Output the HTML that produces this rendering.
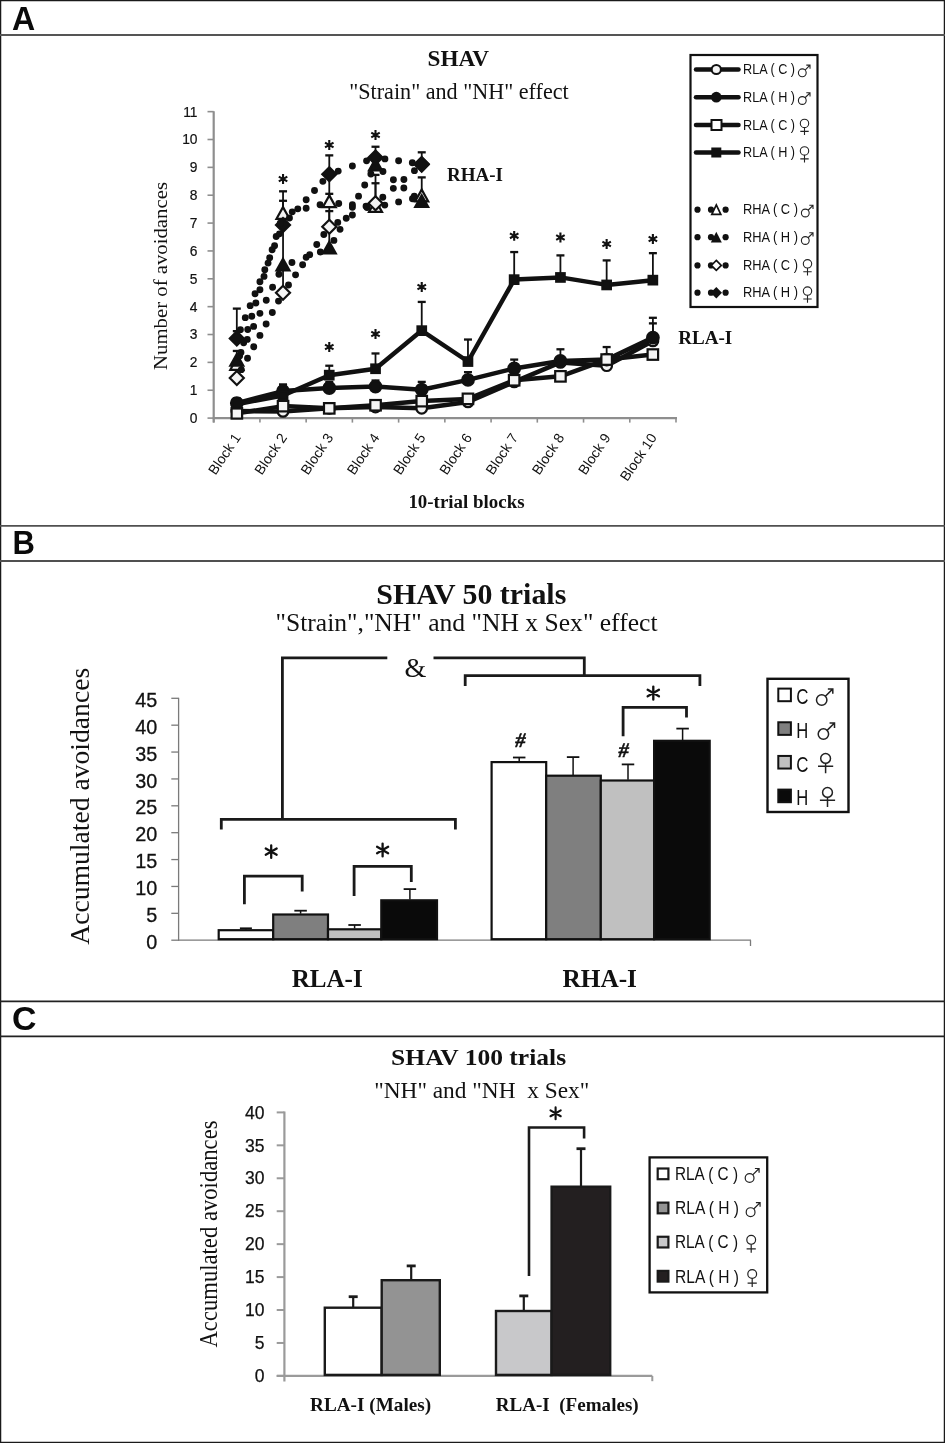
<!DOCTYPE html>
<html><head><meta charset="utf-8"><title>SHAV figure</title>
<style>html,body{margin:0;padding:0;background:#fff;overflow:hidden}svg{display:block;will-change:transform}</style>
</head><body>
<svg width="945" height="1443" viewBox="0 0 945 1443">
<rect x="0" y="0" width="945" height="1443" fill="#fff"/>
<rect x="0.5" y="0.5" width="944" height="1442" fill="none" stroke="#1a1a1a" stroke-width="1.5" />
<line x1="0" y1="35.0" x2="945" y2="35.0" stroke="#555" stroke-width="2.0" />
<line x1="0" y1="525.9" x2="945" y2="525.9" stroke="#505050" stroke-width="1.9" />
<line x1="0" y1="561.0" x2="945" y2="561.0" stroke="#505050" stroke-width="1.9" />
<line x1="0" y1="1001.4" x2="945" y2="1001.4" stroke="#222" stroke-width="1.7" />
<line x1="0" y1="1036.3" x2="945" y2="1036.3" stroke="#222" stroke-width="1.7" />
<text x="12" y="30.4" font-family='"Liberation Sans", sans-serif' font-size="34" font-weight="bold" text-anchor="start" fill="#0a0a0a" textLength="23.2" lengthAdjust="spacingAndGlyphs" >A</text>
<text x="12.6" y="554.1" font-family='"Liberation Sans", sans-serif' font-size="34" font-weight="bold" text-anchor="start" fill="#0a0a0a" textLength="22.4" lengthAdjust="spacingAndGlyphs" >B</text>
<text x="12.0" y="1030.2" font-family='"Liberation Sans", sans-serif' font-size="34" font-weight="bold" text-anchor="start" fill="#0a0a0a" textLength="24.5" lengthAdjust="spacingAndGlyphs" >C</text>
<text x="458.3" y="65.9" font-family='"Liberation Serif", serif' font-size="22.5" font-weight="bold" text-anchor="middle" fill="#111" textLength="61.5" lengthAdjust="spacingAndGlyphs" >SHAV</text>
<text x="459" y="98.8" font-family='"Liberation Serif", serif' font-size="23.8" font-weight="normal" text-anchor="middle" fill="#111" textLength="219.5" lengthAdjust="spacingAndGlyphs" >"Strain" and "NH" effect</text>
<line x1="213.7" y1="111.14000000000004" x2="213.7" y2="422.6" stroke="#8e8e8e" stroke-width="2.2" />
<line x1="207.5" y1="418.1" x2="213.7" y2="418.1" stroke="#8e8e8e" stroke-width="1.6" />
<text x="197.5" y="423.0" font-family='"Liberation Sans", sans-serif' font-size="13.8" font-weight="normal" text-anchor="end" fill="#111" stroke="#111" stroke-width="0.2">0</text>
<line x1="207.5" y1="390.24" x2="213.7" y2="390.24" stroke="#8e8e8e" stroke-width="1.6" />
<text x="197.5" y="395.14" font-family='"Liberation Sans", sans-serif' font-size="13.8" font-weight="normal" text-anchor="end" fill="#111" stroke="#111" stroke-width="0.2">1</text>
<line x1="207.5" y1="362.38" x2="213.7" y2="362.38" stroke="#8e8e8e" stroke-width="1.6" />
<text x="197.5" y="367.28" font-family='"Liberation Sans", sans-serif' font-size="13.8" font-weight="normal" text-anchor="end" fill="#111" stroke="#111" stroke-width="0.2">2</text>
<line x1="207.5" y1="334.52000000000004" x2="213.7" y2="334.52000000000004" stroke="#8e8e8e" stroke-width="1.6" />
<text x="197.5" y="339.42" font-family='"Liberation Sans", sans-serif' font-size="13.8" font-weight="normal" text-anchor="end" fill="#111" stroke="#111" stroke-width="0.2">3</text>
<line x1="207.5" y1="306.66" x2="213.7" y2="306.66" stroke="#8e8e8e" stroke-width="1.6" />
<text x="197.5" y="311.56" font-family='"Liberation Sans", sans-serif' font-size="13.8" font-weight="normal" text-anchor="end" fill="#111" stroke="#111" stroke-width="0.2">4</text>
<line x1="207.5" y1="278.8" x2="213.7" y2="278.8" stroke="#8e8e8e" stroke-width="1.6" />
<text x="197.5" y="283.7" font-family='"Liberation Sans", sans-serif' font-size="13.8" font-weight="normal" text-anchor="end" fill="#111" stroke="#111" stroke-width="0.2">5</text>
<line x1="207.5" y1="250.94000000000003" x2="213.7" y2="250.94000000000003" stroke="#8e8e8e" stroke-width="1.6" />
<text x="197.5" y="255.84000000000003" font-family='"Liberation Sans", sans-serif' font-size="13.8" font-weight="normal" text-anchor="end" fill="#111" stroke="#111" stroke-width="0.2">6</text>
<line x1="207.5" y1="223.08000000000004" x2="213.7" y2="223.08000000000004" stroke="#8e8e8e" stroke-width="1.6" />
<text x="197.5" y="227.98000000000005" font-family='"Liberation Sans", sans-serif' font-size="13.8" font-weight="normal" text-anchor="end" fill="#111" stroke="#111" stroke-width="0.2">7</text>
<line x1="207.5" y1="195.22000000000003" x2="213.7" y2="195.22000000000003" stroke="#8e8e8e" stroke-width="1.6" />
<text x="197.5" y="200.12000000000003" font-family='"Liberation Sans", sans-serif' font-size="13.8" font-weight="normal" text-anchor="end" fill="#111" stroke="#111" stroke-width="0.2">8</text>
<line x1="207.5" y1="167.36" x2="213.7" y2="167.36" stroke="#8e8e8e" stroke-width="1.6" />
<text x="197.5" y="172.26000000000002" font-family='"Liberation Sans", sans-serif' font-size="13.8" font-weight="normal" text-anchor="end" fill="#111" stroke="#111" stroke-width="0.2">9</text>
<line x1="207.5" y1="139.5" x2="213.7" y2="139.5" stroke="#8e8e8e" stroke-width="1.6" />
<text x="197.5" y="144.4" font-family='"Liberation Sans", sans-serif' font-size="13.8" font-weight="normal" text-anchor="end" fill="#111" stroke="#111" stroke-width="0.2">10</text>
<line x1="207.5" y1="111.64000000000004" x2="213.7" y2="111.64000000000004" stroke="#8e8e8e" stroke-width="1.6" />
<text x="197.5" y="116.54000000000005" font-family='"Liberation Sans", sans-serif' font-size="13.8" font-weight="normal" text-anchor="end" fill="#111" stroke="#111" stroke-width="0.2">11</text>
<line x1="212.7" y1="418.1" x2="677.0" y2="418.1" stroke="#8e8e8e" stroke-width="2.2" />
<line x1="213.7" y1="418.1" x2="213.7" y2="422.6" stroke="#8e8e8e" stroke-width="1.6" />
<line x1="259.93" y1="418.1" x2="259.93" y2="422.6" stroke="#8e8e8e" stroke-width="1.6" />
<line x1="306.15999999999997" y1="418.1" x2="306.15999999999997" y2="422.6" stroke="#8e8e8e" stroke-width="1.6" />
<line x1="352.39" y1="418.1" x2="352.39" y2="422.6" stroke="#8e8e8e" stroke-width="1.6" />
<line x1="398.62" y1="418.1" x2="398.62" y2="422.6" stroke="#8e8e8e" stroke-width="1.6" />
<line x1="444.85" y1="418.1" x2="444.85" y2="422.6" stroke="#8e8e8e" stroke-width="1.6" />
<line x1="491.08" y1="418.1" x2="491.08" y2="422.6" stroke="#8e8e8e" stroke-width="1.6" />
<line x1="537.31" y1="418.1" x2="537.31" y2="422.6" stroke="#8e8e8e" stroke-width="1.6" />
<line x1="583.54" y1="418.1" x2="583.54" y2="422.6" stroke="#8e8e8e" stroke-width="1.6" />
<line x1="629.77" y1="418.1" x2="629.77" y2="422.6" stroke="#8e8e8e" stroke-width="1.6" />
<line x1="676.0" y1="418.1" x2="676.0" y2="422.6" stroke="#8e8e8e" stroke-width="1.6" />
<text transform="translate(241.3,437.6) rotate(-56)" font-family='"Liberation Sans", sans-serif' font-size="14" text-anchor="end" fill="#111">Block 1</text>
<text transform="translate(287.5,437.6) rotate(-56)" font-family='"Liberation Sans", sans-serif' font-size="14" text-anchor="end" fill="#111">Block 2</text>
<text transform="translate(333.8,437.6) rotate(-56)" font-family='"Liberation Sans", sans-serif' font-size="14" text-anchor="end" fill="#111">Block 3</text>
<text transform="translate(380.0,437.6) rotate(-56)" font-family='"Liberation Sans", sans-serif' font-size="14" text-anchor="end" fill="#111">Block 4</text>
<text transform="translate(426.2,437.6) rotate(-56)" font-family='"Liberation Sans", sans-serif' font-size="14" text-anchor="end" fill="#111">Block 5</text>
<text transform="translate(472.5,437.6) rotate(-56)" font-family='"Liberation Sans", sans-serif' font-size="14" text-anchor="end" fill="#111">Block 6</text>
<text transform="translate(518.7,437.6) rotate(-56)" font-family='"Liberation Sans", sans-serif' font-size="14" text-anchor="end" fill="#111">Block 7</text>
<text transform="translate(564.9,437.6) rotate(-56)" font-family='"Liberation Sans", sans-serif' font-size="14" text-anchor="end" fill="#111">Block 8</text>
<text transform="translate(611.2,437.6) rotate(-56)" font-family='"Liberation Sans", sans-serif' font-size="14" text-anchor="end" fill="#111">Block 9</text>
<text transform="translate(657.4,437.6) rotate(-56)" font-family='"Liberation Sans", sans-serif' font-size="14" text-anchor="end" fill="#111">Block 10</text>
<text transform="translate(167,276) rotate(-90)" font-family='"Liberation Serif", serif' font-size="19.5" text-anchor="middle" fill="#111" textLength="188" lengthAdjust="spacingAndGlyphs">Number of avoidances</text>
<text x="466.5" y="507.6" font-family='"Liberation Serif", serif' font-size="18.9" font-weight="bold" text-anchor="middle" fill="#111" textLength="116.2" lengthAdjust="spacingAndGlyphs" >10-trial blocks</text>
<text x="475" y="181.2" font-family='"Liberation Serif", serif' font-size="19" font-weight="bold" text-anchor="middle" fill="#111" textLength="56" lengthAdjust="spacingAndGlyphs" >RHA-I</text>
<text x="705.3" y="344" font-family='"Liberation Serif", serif' font-size="19" font-weight="bold" text-anchor="middle" fill="#111" textLength="54" lengthAdjust="spacingAndGlyphs" >RLA-I</text>
<line x1="236.815" y1="338.42040000000003" x2="236.815" y2="308.6102" stroke="#111" stroke-width="1.8" />
<line x1="232.815" y1="308.6102" x2="240.815" y2="308.6102" stroke="#111" stroke-width="2.3" />
<line x1="236.815" y1="338.42040000000003" x2="236.815" y2="331.1768" stroke="#111" stroke-width="1.8" />
<line x1="232.815" y1="331.1768" x2="240.815" y2="331.1768" stroke="#111" stroke-width="2.3" />
<line x1="236.815" y1="360.987" x2="236.815" y2="350.9574" stroke="#111" stroke-width="1.8" />
<line x1="232.815" y1="350.9574" x2="240.815" y2="350.9574" stroke="#111" stroke-width="2.3" />
<line x1="283.04499999999996" y1="292.73" x2="283.04499999999996" y2="191.3196" stroke="#111" stroke-width="1.8" />
<line x1="279.04499999999996" y1="191.3196" x2="287.04499999999996" y2="191.3196" stroke="#111" stroke-width="2.3" />
<line x1="283.04499999999996" y1="225.866" x2="283.04499999999996" y2="200.79200000000003" stroke="#111" stroke-width="1.8" />
<line x1="279.04499999999996" y1="200.79200000000003" x2="287.04499999999996" y2="200.79200000000003" stroke="#111" stroke-width="2.3" />
<line x1="329.275" y1="248.71120000000002" x2="329.275" y2="155.38020000000006" stroke="#111" stroke-width="1.8" />
<line x1="325.275" y1="155.38020000000006" x2="333.275" y2="155.38020000000006" stroke="#111" stroke-width="2.3" />
<line x1="329.275" y1="202.4636" x2="329.275" y2="193.827" stroke="#111" stroke-width="1.8" />
<line x1="325.275" y1="193.827" x2="333.275" y2="193.827" stroke="#111" stroke-width="2.3" />
<line x1="329.275" y1="226.70180000000002" x2="329.275" y2="211.10020000000003" stroke="#111" stroke-width="1.8" />
<line x1="325.275" y1="211.10020000000003" x2="333.275" y2="211.10020000000003" stroke="#111" stroke-width="2.3" />
<line x1="375.505" y1="157.60900000000004" x2="375.505" y2="146.74360000000001" stroke="#111" stroke-width="1.8" />
<line x1="371.505" y1="146.74360000000001" x2="379.505" y2="146.74360000000001" stroke="#111" stroke-width="2.3" />
<line x1="375.505" y1="203.29940000000002" x2="375.505" y2="174.8822" stroke="#111" stroke-width="1.8" />
<line x1="371.505" y1="174.8822" x2="379.505" y2="174.8822" stroke="#111" stroke-width="2.3" />
<line x1="375.505" y1="203.29940000000002" x2="375.505" y2="183.24020000000004" stroke="#111" stroke-width="1.8" />
<line x1="371.505" y1="183.24020000000004" x2="379.505" y2="183.24020000000004" stroke="#111" stroke-width="2.3" />
<line x1="421.735" y1="164.01680000000005" x2="421.735" y2="152.31560000000007" stroke="#111" stroke-width="1.8" />
<line x1="417.735" y1="152.31560000000007" x2="425.735" y2="152.31560000000007" stroke="#111" stroke-width="2.3" />
<line x1="421.735" y1="202.18500000000003" x2="421.735" y2="177.3896" stroke="#111" stroke-width="1.8" />
<line x1="417.735" y1="177.3896" x2="425.735" y2="177.3896" stroke="#111" stroke-width="2.3" />
<path d="M236.8,358.1 L243.3,369.8 L230.3,369.8 Z" fill="#f4f4f4" stroke="#111" stroke-width="2.2" stroke-linejoin="miter"/>
<path d="M283.0,207.1 L289.5,218.8 L276.5,218.8 Z" fill="#f4f4f4" stroke="#111" stroke-width="2.2" stroke-linejoin="miter"/>
<path d="M329.3,195.4 L335.8,207.1 L322.8,207.1 Z" fill="#f4f4f4" stroke="#111" stroke-width="2.2" stroke-linejoin="miter"/>
<path d="M375.5,200.2 L382.0,211.9 L369.0,211.9 Z" fill="#f4f4f4" stroke="#111" stroke-width="2.2" stroke-linejoin="miter"/>
<path d="M421.7,189.6 L428.2,201.3 L415.2,201.3 Z" fill="#f4f4f4" stroke="#111" stroke-width="2.2" stroke-linejoin="miter"/>
<path d="M236.8,354.0 L243.3,365.7 L230.3,365.7 Z" fill="#111" stroke="#111" stroke-width="2.2" stroke-linejoin="miter"/>
<path d="M283.0,258.7 L289.5,270.4 L276.5,270.4 Z" fill="#111" stroke="#111" stroke-width="2.2" stroke-linejoin="miter"/>
<path d="M329.3,241.7 L335.8,253.4 L322.8,253.4 Z" fill="#111" stroke="#111" stroke-width="2.2" stroke-linejoin="miter"/>
<path d="M375.5,158.7 L382.0,170.4 L369.0,170.4 Z" fill="#111" stroke="#111" stroke-width="2.2" stroke-linejoin="miter"/>
<path d="M421.7,195.2 L428.2,206.9 L415.2,206.9 Z" fill="#111" stroke="#111" stroke-width="2.2" stroke-linejoin="miter"/>
<path d="M236.8,371.0 L243.8,378.0 L236.8,385.0 L229.8,378.0 Z" fill="#f4f4f4" stroke="#111" stroke-width="2.2"/>
<path d="M283.0,285.7 L290.0,292.7 L283.0,299.7 L276.0,292.7 Z" fill="#f4f4f4" stroke="#111" stroke-width="2.2"/>
<path d="M329.3,219.7 L336.3,226.7 L329.3,233.7 L322.3,226.7 Z" fill="#f4f4f4" stroke="#111" stroke-width="2.2"/>
<path d="M375.5,196.3 L382.5,203.3 L375.5,210.3 L368.5,203.3 Z" fill="#f4f4f4" stroke="#111" stroke-width="2.2"/>
<path d="M421.7,157.6 L428.7,164.6 L421.7,171.6 L414.7,164.6 Z" fill="#f4f4f4" stroke="#111" stroke-width="2.2"/>
<path d="M236.8,331.4 L243.8,338.4 L236.8,345.4 L229.8,338.4 Z" fill="#111" stroke="#111" stroke-width="2.2"/>
<path d="M283.0,218.0 L290.0,225.0 L283.0,232.0 L276.0,225.0 Z" fill="#111" stroke="#111" stroke-width="2.2"/>
<path d="M329.3,167.3 L336.3,174.3 L329.3,181.3 L322.3,174.3 Z" fill="#111" stroke="#111" stroke-width="2.2"/>
<path d="M375.5,150.6 L382.5,157.6 L375.5,164.6 L368.5,157.6 Z" fill="#111" stroke="#111" stroke-width="2.2"/>
<path d="M421.7,157.0 L428.7,164.0 L421.7,171.0 L414.7,164.0 Z" fill="#111" stroke="#111" stroke-width="2.2"/>
<path d="M236.15,356.08a3.45,3.45 0 1,0 6.9,0a3.45,3.45 0 1,0 -6.9,0M240.21,342.80a3.45,3.45 0 1,0 6.9,0a3.45,3.45 0 1,0 -6.9,0M244.28,329.52a3.45,3.45 0 1,0 6.9,0a3.45,3.45 0 1,0 -6.9,0M248.35,316.23a3.45,3.45 0 1,0 6.9,0a3.45,3.45 0 1,0 -6.9,0M252.41,302.95a3.45,3.45 0 1,0 6.9,0a3.45,3.45 0 1,0 -6.9,0M256.48,289.67a3.45,3.45 0 1,0 6.9,0a3.45,3.45 0 1,0 -6.9,0M260.55,276.38a3.45,3.45 0 1,0 6.9,0a3.45,3.45 0 1,0 -6.9,0M264.61,263.10a3.45,3.45 0 1,0 6.9,0a3.45,3.45 0 1,0 -6.9,0M268.68,249.82a3.45,3.45 0 1,0 6.9,0a3.45,3.45 0 1,0 -6.9,0M272.75,236.53a3.45,3.45 0 1,0 6.9,0a3.45,3.45 0 1,0 -6.9,0M276.81,223.25a3.45,3.45 0 1,0 6.9,0a3.45,3.45 0 1,0 -6.9,0M288.80,211.83a3.45,3.45 0 1,0 6.9,0a3.45,3.45 0 1,0 -6.9,0M302.71,208.31a3.45,3.45 0 1,0 6.9,0a3.45,3.45 0 1,0 -6.9,0M316.62,204.79a3.45,3.45 0 1,0 6.9,0a3.45,3.45 0 1,0 -6.9,0M335.28,203.43a3.45,3.45 0 1,0 6.9,0a3.45,3.45 0 1,0 -6.9,0M348.94,204.83a3.45,3.45 0 1,0 6.9,0a3.45,3.45 0 1,0 -6.9,0M362.60,206.23a3.45,3.45 0 1,0 6.9,0a3.45,3.45 0 1,0 -6.9,0M381.32,205.08a3.45,3.45 0 1,0 6.9,0a3.45,3.45 0 1,0 -6.9,0M395.17,201.91a3.45,3.45 0 1,0 6.9,0a3.45,3.45 0 1,0 -6.9,0M409.02,198.73a3.45,3.45 0 1,0 6.9,0a3.45,3.45 0 1,0 -6.9,0" fill="#111"/>
<path d="M237.51,352.44a3.45,3.45 0 1,0 6.9,0a3.45,3.45 0 1,0 -6.9,0M243.83,339.41a3.45,3.45 0 1,0 6.9,0a3.45,3.45 0 1,0 -6.9,0M250.16,326.38a3.45,3.45 0 1,0 6.9,0a3.45,3.45 0 1,0 -6.9,0M256.48,313.35a3.45,3.45 0 1,0 6.9,0a3.45,3.45 0 1,0 -6.9,0M262.80,300.32a3.45,3.45 0 1,0 6.9,0a3.45,3.45 0 1,0 -6.9,0M269.13,287.28a3.45,3.45 0 1,0 6.9,0a3.45,3.45 0 1,0 -6.9,0M275.45,274.25a3.45,3.45 0 1,0 6.9,0a3.45,3.45 0 1,0 -6.9,0M288.51,262.43a3.45,3.45 0 1,0 6.9,0a3.45,3.45 0 1,0 -6.9,0M302.71,257.21a3.45,3.45 0 1,0 6.9,0a3.45,3.45 0 1,0 -6.9,0M316.91,251.99a3.45,3.45 0 1,0 6.9,0a3.45,3.45 0 1,0 -6.9,0M330.45,240.41a3.45,3.45 0 1,0 6.9,0a3.45,3.45 0 1,0 -6.9,0M336.61,229.34a3.45,3.45 0 1,0 6.9,0a3.45,3.45 0 1,0 -6.9,0M342.78,218.27a3.45,3.45 0 1,0 6.9,0a3.45,3.45 0 1,0 -6.9,0M348.94,207.20a3.45,3.45 0 1,0 6.9,0a3.45,3.45 0 1,0 -6.9,0M355.10,196.13a3.45,3.45 0 1,0 6.9,0a3.45,3.45 0 1,0 -6.9,0M361.27,185.06a3.45,3.45 0 1,0 6.9,0a3.45,3.45 0 1,0 -6.9,0M367.43,173.99a3.45,3.45 0 1,0 6.9,0a3.45,3.45 0 1,0 -6.9,0M379.51,171.57a3.45,3.45 0 1,0 6.9,0a3.45,3.45 0 1,0 -6.9,0M389.95,179.82a3.45,3.45 0 1,0 6.9,0a3.45,3.45 0 1,0 -6.9,0M400.39,188.06a3.45,3.45 0 1,0 6.9,0a3.45,3.45 0 1,0 -6.9,0M410.83,196.30a3.45,3.45 0 1,0 6.9,0a3.45,3.45 0 1,0 -6.9,0" fill="#111"/>
<path d="M237.89,369.63a3.45,3.45 0 1,0 6.9,0a3.45,3.45 0 1,0 -6.9,0M244.09,358.21a3.45,3.45 0 1,0 6.9,0a3.45,3.45 0 1,0 -6.9,0M250.28,346.78a3.45,3.45 0 1,0 6.9,0a3.45,3.45 0 1,0 -6.9,0M256.48,335.36a3.45,3.45 0 1,0 6.9,0a3.45,3.45 0 1,0 -6.9,0M262.68,323.93a3.45,3.45 0 1,0 6.9,0a3.45,3.45 0 1,0 -6.9,0M268.87,312.51a3.45,3.45 0 1,0 6.9,0a3.45,3.45 0 1,0 -6.9,0M275.07,301.08a3.45,3.45 0 1,0 6.9,0a3.45,3.45 0 1,0 -6.9,0M285.04,284.95a3.45,3.45 0 1,0 6.9,0a3.45,3.45 0 1,0 -6.9,0M292.11,274.86a3.45,3.45 0 1,0 6.9,0a3.45,3.45 0 1,0 -6.9,0M299.18,264.76a3.45,3.45 0 1,0 6.9,0a3.45,3.45 0 1,0 -6.9,0M306.24,254.67a3.45,3.45 0 1,0 6.9,0a3.45,3.45 0 1,0 -6.9,0M313.31,244.58a3.45,3.45 0 1,0 6.9,0a3.45,3.45 0 1,0 -6.9,0M320.38,234.48a3.45,3.45 0 1,0 6.9,0a3.45,3.45 0 1,0 -6.9,0M334.30,222.41a3.45,3.45 0 1,0 6.9,0a3.45,3.45 0 1,0 -6.9,0M348.94,215.00a3.45,3.45 0 1,0 6.9,0a3.45,3.45 0 1,0 -6.9,0M363.58,207.59a3.45,3.45 0 1,0 6.9,0a3.45,3.45 0 1,0 -6.9,0M379.34,197.20a3.45,3.45 0 1,0 6.9,0a3.45,3.45 0 1,0 -6.9,0M389.89,188.36a3.45,3.45 0 1,0 6.9,0a3.45,3.45 0 1,0 -6.9,0M400.45,179.52a3.45,3.45 0 1,0 6.9,0a3.45,3.45 0 1,0 -6.9,0M411.00,170.67a3.45,3.45 0 1,0 6.9,0a3.45,3.45 0 1,0 -6.9,0" fill="#111"/>
<path d="M236.95,329.62a3.45,3.45 0 1,0 6.9,0a3.45,3.45 0 1,0 -6.9,0M241.83,317.65a3.45,3.45 0 1,0 6.9,0a3.45,3.45 0 1,0 -6.9,0M246.72,305.67a3.45,3.45 0 1,0 6.9,0a3.45,3.45 0 1,0 -6.9,0M251.60,293.70a3.45,3.45 0 1,0 6.9,0a3.45,3.45 0 1,0 -6.9,0M256.48,281.73a3.45,3.45 0 1,0 6.9,0a3.45,3.45 0 1,0 -6.9,0M261.36,269.75a3.45,3.45 0 1,0 6.9,0a3.45,3.45 0 1,0 -6.9,0M266.24,257.78a3.45,3.45 0 1,0 6.9,0a3.45,3.45 0 1,0 -6.9,0M271.13,245.80a3.45,3.45 0 1,0 6.9,0a3.45,3.45 0 1,0 -6.9,0M276.01,233.83a3.45,3.45 0 1,0 6.9,0a3.45,3.45 0 1,0 -6.9,0M286.00,218.01a3.45,3.45 0 1,0 6.9,0a3.45,3.45 0 1,0 -6.9,0M294.35,208.84a3.45,3.45 0 1,0 6.9,0a3.45,3.45 0 1,0 -6.9,0M302.71,199.68a3.45,3.45 0 1,0 6.9,0a3.45,3.45 0 1,0 -6.9,0M311.07,190.51a3.45,3.45 0 1,0 6.9,0a3.45,3.45 0 1,0 -6.9,0M319.42,181.35a3.45,3.45 0 1,0 6.9,0a3.45,3.45 0 1,0 -6.9,0M334.76,171.09a3.45,3.45 0 1,0 6.9,0a3.45,3.45 0 1,0 -6.9,0M348.94,165.97a3.45,3.45 0 1,0 6.9,0a3.45,3.45 0 1,0 -6.9,0M363.12,160.84a3.45,3.45 0 1,0 6.9,0a3.45,3.45 0 1,0 -6.9,0M381.47,158.91a3.45,3.45 0 1,0 6.9,0a3.45,3.45 0 1,0 -6.9,0M395.17,160.81a3.45,3.45 0 1,0 6.9,0a3.45,3.45 0 1,0 -6.9,0M408.87,162.71a3.45,3.45 0 1,0 6.9,0a3.45,3.45 0 1,0 -6.9,0" fill="#111"/>
<path d="M283.04,183.90 L283.04,174.10 M278.80,181.45 L287.29,176.55 M287.29,181.45 L278.80,176.55 " stroke="#111" stroke-width="2.1" fill="none"/>
<path d="M329.27,149.90 L329.27,140.10 M325.03,147.45 L333.52,142.55 M333.52,147.45 L325.03,142.55 " stroke="#111" stroke-width="2.1" fill="none"/>
<path d="M375.50,139.90 L375.50,130.10 M371.26,137.45 L379.75,132.55 M379.75,137.45 L371.26,132.55 " stroke="#111" stroke-width="2.1" fill="none"/>
<line x1="236.815" y1="404.17" x2="236.815" y2="398.598" stroke="#111" stroke-width="1.8" />
<line x1="232.815" y1="398.598" x2="240.815" y2="398.598" stroke="#111" stroke-width="2.3" />
<line x1="283.04499999999996" y1="395.53340000000003" x2="283.04499999999996" y2="384.668" stroke="#111" stroke-width="1.8" />
<line x1="279.04499999999996" y1="384.668" x2="287.04499999999996" y2="384.668" stroke="#111" stroke-width="2.3" />
<line x1="329.275" y1="375.1956" x2="329.275" y2="365.7232" stroke="#111" stroke-width="1.8" />
<line x1="325.275" y1="365.7232" x2="333.275" y2="365.7232" stroke="#111" stroke-width="2.3" />
<line x1="375.505" y1="368.7878" x2="375.505" y2="353.4648" stroke="#111" stroke-width="1.8" />
<line x1="371.505" y1="353.4648" x2="379.505" y2="353.4648" stroke="#111" stroke-width="2.3" />
<line x1="421.735" y1="330.6196" x2="421.735" y2="301.9238" stroke="#111" stroke-width="1.8" />
<line x1="417.735" y1="301.9238" x2="425.735" y2="301.9238" stroke="#111" stroke-width="2.3" />
<line x1="467.96500000000003" y1="361.54420000000005" x2="467.96500000000003" y2="339.5348" stroke="#111" stroke-width="1.8" />
<line x1="463.96500000000003" y1="339.5348" x2="471.96500000000003" y2="339.5348" stroke="#111" stroke-width="2.3" />
<line x1="514.1949999999999" y1="279.6358" x2="514.1949999999999" y2="252.05440000000002" stroke="#111" stroke-width="1.8" />
<line x1="510.19499999999994" y1="252.05440000000002" x2="518.1949999999999" y2="252.05440000000002" stroke="#111" stroke-width="2.3" />
<line x1="560.425" y1="277.40700000000004" x2="560.425" y2="255.39760000000004" stroke="#111" stroke-width="1.8" />
<line x1="556.425" y1="255.39760000000004" x2="564.425" y2="255.39760000000004" stroke="#111" stroke-width="2.3" />
<line x1="606.655" y1="284.92920000000004" x2="606.655" y2="260.41240000000005" stroke="#111" stroke-width="1.8" />
<line x1="602.655" y1="260.41240000000005" x2="610.655" y2="260.41240000000005" stroke="#111" stroke-width="2.3" />
<line x1="652.885" y1="280.193" x2="652.885" y2="253.16880000000003" stroke="#111" stroke-width="1.8" />
<line x1="648.885" y1="253.16880000000003" x2="656.885" y2="253.16880000000003" stroke="#111" stroke-width="2.3" />
<line x1="236.815" y1="403.0556" x2="236.815" y2="398.598" stroke="#111" stroke-width="1.8" />
<line x1="232.815" y1="398.598" x2="240.815" y2="398.598" stroke="#111" stroke-width="2.3" />
<line x1="283.04499999999996" y1="391.0758" x2="283.04499999999996" y2="384.668" stroke="#111" stroke-width="1.8" />
<line x1="279.04499999999996" y1="384.668" x2="287.04499999999996" y2="384.668" stroke="#111" stroke-width="2.3" />
<line x1="329.275" y1="388.01120000000003" x2="329.275" y2="381.882" stroke="#111" stroke-width="1.8" />
<line x1="325.275" y1="381.882" x2="333.275" y2="381.882" stroke="#111" stroke-width="2.3" />
<line x1="375.505" y1="386.6182" x2="375.505" y2="380.48900000000003" stroke="#111" stroke-width="1.8" />
<line x1="371.505" y1="380.48900000000003" x2="379.505" y2="380.48900000000003" stroke="#111" stroke-width="2.3" />
<line x1="421.735" y1="389.68280000000004" x2="421.735" y2="381.882" stroke="#111" stroke-width="1.8" />
<line x1="417.735" y1="381.882" x2="425.735" y2="381.882" stroke="#111" stroke-width="2.3" />
<line x1="467.96500000000003" y1="379.9318" x2="467.96500000000003" y2="372.13100000000003" stroke="#111" stroke-width="1.8" />
<line x1="463.96500000000003" y1="372.13100000000003" x2="471.96500000000003" y2="372.13100000000003" stroke="#111" stroke-width="2.3" />
<line x1="514.1949999999999" y1="368.5092" x2="514.1949999999999" y2="359.59400000000005" stroke="#111" stroke-width="1.8" />
<line x1="510.19499999999994" y1="359.59400000000005" x2="518.1949999999999" y2="359.59400000000005" stroke="#111" stroke-width="2.3" />
<line x1="560.425" y1="360.987" x2="560.425" y2="349.2858" stroke="#111" stroke-width="1.8" />
<line x1="556.425" y1="349.2858" x2="564.425" y2="349.2858" stroke="#111" stroke-width="2.3" />
<line x1="606.655" y1="359.59400000000005" x2="606.655" y2="347.057" stroke="#111" stroke-width="1.8" />
<line x1="602.655" y1="347.057" x2="610.655" y2="347.057" stroke="#111" stroke-width="2.3" />
<line x1="652.885" y1="337.5846" x2="652.885" y2="317.80400000000003" stroke="#111" stroke-width="1.8" />
<line x1="648.885" y1="317.80400000000003" x2="656.885" y2="317.80400000000003" stroke="#111" stroke-width="2.3" />
<line x1="652.885" y1="340.09200000000004" x2="652.885" y2="323.37600000000003" stroke="#111" stroke-width="1.8" />
<line x1="648.885" y1="323.37600000000003" x2="656.885" y2="323.37600000000003" stroke="#111" stroke-width="2.3" />
<polyline points="236.8,411.1 283.0,411.4 329.3,408.3 375.5,407.0 421.7,408.3 468.0,401.9 514.2,381.9 560.4,362.4 606.7,365.7 652.9,340.9" fill="none" stroke="#111" stroke-width="4.5" stroke-linejoin="round"/>
<circle cx="236.8" cy="411.1" r="5.3" fill="#f4f4f4" stroke="#111" stroke-width="2.2"/>
<circle cx="283.0" cy="411.4" r="5.3" fill="#f4f4f4" stroke="#111" stroke-width="2.2"/>
<circle cx="329.3" cy="408.3" r="5.3" fill="#f4f4f4" stroke="#111" stroke-width="2.2"/>
<circle cx="375.5" cy="407.0" r="5.3" fill="#f4f4f4" stroke="#111" stroke-width="2.2"/>
<circle cx="421.7" cy="408.3" r="5.3" fill="#f4f4f4" stroke="#111" stroke-width="2.2"/>
<circle cx="468.0" cy="401.9" r="5.3" fill="#f4f4f4" stroke="#111" stroke-width="2.2"/>
<circle cx="514.2" cy="381.9" r="5.3" fill="#f4f4f4" stroke="#111" stroke-width="2.2"/>
<circle cx="560.4" cy="362.4" r="5.3" fill="#f4f4f4" stroke="#111" stroke-width="2.2"/>
<circle cx="606.7" cy="365.7" r="5.3" fill="#f4f4f4" stroke="#111" stroke-width="2.2"/>
<circle cx="652.9" cy="340.9" r="5.3" fill="#f4f4f4" stroke="#111" stroke-width="2.2"/>
<polyline points="236.8,403.1 283.0,391.1 329.3,388.0 375.5,386.6 421.7,389.7 468.0,379.9 514.2,368.5 560.4,361.0 606.7,359.6 652.9,337.6" fill="none" stroke="#111" stroke-width="4.5" stroke-linejoin="round"/>
<circle cx="236.8" cy="403.1" r="5.8" fill="#111" stroke="#111" stroke-width="2.2"/>
<circle cx="283.0" cy="391.1" r="5.8" fill="#111" stroke="#111" stroke-width="2.2"/>
<circle cx="329.3" cy="388.0" r="5.8" fill="#111" stroke="#111" stroke-width="2.2"/>
<circle cx="375.5" cy="386.6" r="5.8" fill="#111" stroke="#111" stroke-width="2.2"/>
<circle cx="421.7" cy="389.7" r="5.8" fill="#111" stroke="#111" stroke-width="2.2"/>
<circle cx="468.0" cy="379.9" r="5.8" fill="#111" stroke="#111" stroke-width="2.2"/>
<circle cx="514.2" cy="368.5" r="5.8" fill="#111" stroke="#111" stroke-width="2.2"/>
<circle cx="560.4" cy="361.0" r="5.8" fill="#111" stroke="#111" stroke-width="2.2"/>
<circle cx="606.7" cy="359.6" r="5.8" fill="#111" stroke="#111" stroke-width="2.2"/>
<circle cx="652.9" cy="337.6" r="5.8" fill="#111" stroke="#111" stroke-width="2.2"/>
<polyline points="236.8,413.4 283.0,406.1 329.3,408.3 375.5,405.3 421.7,401.1 468.0,398.9 514.2,380.2 560.4,376.3 606.7,359.6 652.9,354.6" fill="none" stroke="#111" stroke-width="4.5" stroke-linejoin="round"/>
<rect x="231.6" y="408.1" width="10.5" height="10.5" fill="#f4f4f4" stroke="#111" stroke-width="2.2"/>
<rect x="277.8" y="400.9" width="10.5" height="10.5" fill="#f4f4f4" stroke="#111" stroke-width="2.2"/>
<rect x="324.0" y="403.1" width="10.5" height="10.5" fill="#f4f4f4" stroke="#111" stroke-width="2.2"/>
<rect x="370.3" y="400.0" width="10.5" height="10.5" fill="#f4f4f4" stroke="#111" stroke-width="2.2"/>
<rect x="416.5" y="395.9" width="10.5" height="10.5" fill="#f4f4f4" stroke="#111" stroke-width="2.2"/>
<rect x="462.7" y="393.6" width="10.5" height="10.5" fill="#f4f4f4" stroke="#111" stroke-width="2.2"/>
<rect x="508.9" y="375.0" width="10.5" height="10.5" fill="#f4f4f4" stroke="#111" stroke-width="2.2"/>
<rect x="555.2" y="371.1" width="10.5" height="10.5" fill="#f4f4f4" stroke="#111" stroke-width="2.2"/>
<rect x="601.4" y="354.3" width="10.5" height="10.5" fill="#f4f4f4" stroke="#111" stroke-width="2.2"/>
<rect x="647.6" y="349.3" width="10.5" height="10.5" fill="#f4f4f4" stroke="#111" stroke-width="2.2"/>
<polyline points="236.8,404.2 283.0,395.5 329.3,375.2 375.5,368.8 421.7,330.6 468.0,361.5 514.2,279.6 560.4,277.4 606.7,284.9 652.9,280.2" fill="none" stroke="#111" stroke-width="4.5" stroke-linejoin="round"/>
<rect x="232.6" y="399.9" width="8.5" height="8.5" fill="#111" stroke="#111" stroke-width="2.2"/>
<rect x="278.8" y="391.3" width="8.5" height="8.5" fill="#111" stroke="#111" stroke-width="2.2"/>
<rect x="325.0" y="370.9" width="8.5" height="8.5" fill="#111" stroke="#111" stroke-width="2.2"/>
<rect x="371.3" y="364.5" width="8.5" height="8.5" fill="#111" stroke="#111" stroke-width="2.2"/>
<rect x="417.5" y="326.4" width="8.5" height="8.5" fill="#111" stroke="#111" stroke-width="2.2"/>
<rect x="463.7" y="357.3" width="8.5" height="8.5" fill="#111" stroke="#111" stroke-width="2.2"/>
<rect x="509.9" y="275.4" width="8.5" height="8.5" fill="#111" stroke="#111" stroke-width="2.2"/>
<rect x="556.2" y="273.2" width="8.5" height="8.5" fill="#111" stroke="#111" stroke-width="2.2"/>
<rect x="602.4" y="280.7" width="8.5" height="8.5" fill="#111" stroke="#111" stroke-width="2.2"/>
<rect x="648.6" y="275.9" width="8.5" height="8.5" fill="#111" stroke="#111" stroke-width="2.2"/>
<path d="M329.27,351.90 L329.27,342.10 M325.03,349.45 L333.52,344.55 M333.52,349.45 L325.03,344.55 " stroke="#111" stroke-width="2.1" fill="none"/>
<path d="M375.50,338.90 L375.50,329.10 M371.26,336.45 L379.75,331.55 M379.75,336.45 L371.26,331.55 " stroke="#111" stroke-width="2.1" fill="none"/>
<path d="M421.74,291.90 L421.74,282.10 M417.49,289.45 L425.98,284.55 M425.98,289.45 L417.49,284.55 " stroke="#111" stroke-width="2.1" fill="none"/>
<path d="M514.19,240.70 L514.19,230.90 M509.95,238.25 L518.44,233.35 M518.44,238.25 L509.95,233.35 " stroke="#111" stroke-width="2.1" fill="none"/>
<path d="M560.42,242.40 L560.42,232.60 M556.18,239.95 L564.67,235.05 M564.67,239.95 L556.18,235.05 " stroke="#111" stroke-width="2.1" fill="none"/>
<path d="M606.65,248.90 L606.65,239.10 M602.41,246.45 L610.90,241.55 M610.90,246.45 L602.41,241.55 " stroke="#111" stroke-width="2.1" fill="none"/>
<path d="M652.88,243.90 L652.88,234.10 M648.64,241.45 L657.13,236.55 M657.13,241.45 L648.64,236.55 " stroke="#111" stroke-width="2.1" fill="none"/>
<rect x="690.5" y="55" width="127" height="252" fill="#fff" stroke="#111" stroke-width="2.2" />
<line x1="696" y1="69.5" x2="738.5" y2="69.5" stroke="#111" stroke-width="4.5" stroke-linecap="round"/>
<circle cx="716.3" cy="69.5" r="4.6" fill="#f4f4f4" stroke="#111" stroke-width="2"/>
<text x="743" y="74.1" font-family='"Liberation Sans", sans-serif' font-size="13.8" font-weight="normal" text-anchor="start" fill="#111" textLength="52" lengthAdjust="spacingAndGlyphs" >RLA ( C )</text>
<circle cx="802.3" cy="72.8" r="3.9" fill="none" stroke="#222" stroke-width="1.1"/>
<path d="M805.06,70.04 L810.01,65.09 M806.30,65.09 L810.01,65.09 L810.01,68.80" fill="none" stroke="#222" stroke-width="1.1"/>
<line x1="696" y1="97.2" x2="738.5" y2="97.2" stroke="#111" stroke-width="4.5" stroke-linecap="round"/>
<circle cx="716.3" cy="97.2" r="5.4" fill="#111"/>
<text x="743" y="101.8" font-family='"Liberation Sans", sans-serif' font-size="13.8" font-weight="normal" text-anchor="start" fill="#111" textLength="52" lengthAdjust="spacingAndGlyphs" >RLA ( H )</text>
<circle cx="802.3" cy="100.5" r="3.9" fill="none" stroke="#222" stroke-width="1.1"/>
<path d="M805.06,97.74 L810.01,92.79 M806.30,92.79 L810.01,92.79 L810.01,96.50" fill="none" stroke="#222" stroke-width="1.1"/>
<line x1="696" y1="125" x2="738.5" y2="125" stroke="#111" stroke-width="4.5" stroke-linecap="round"/>
<rect x="711.5" y="120" width="10" height="10" fill="#fff" stroke="#111" stroke-width="2" />
<text x="743" y="129.6" font-family='"Liberation Sans", sans-serif' font-size="13.8" font-weight="normal" text-anchor="start" fill="#111" textLength="52" lengthAdjust="spacingAndGlyphs" >RLA ( C )</text>
<circle cx="804.5" cy="123.4" r="4.2" fill="none" stroke="#222" stroke-width="1.1"/>
<path d="M804.5,127.60000000000001 L804.5,135.10000000000002 M800.3,131.35000000000002 L808.7,131.35000000000002" fill="none" stroke="#222" stroke-width="1.1"/>
<line x1="696" y1="152.5" x2="738.5" y2="152.5" stroke="#111" stroke-width="4.5" stroke-linecap="round"/>
<rect x="711.3" y="147.5" width="10" height="10" fill="#111" stroke="none" stroke-width="0" />
<text x="743" y="157.1" font-family='"Liberation Sans", sans-serif' font-size="13.8" font-weight="normal" text-anchor="start" fill="#111" textLength="52" lengthAdjust="spacingAndGlyphs" >RLA ( H )</text>
<circle cx="804.5" cy="150.9" r="4.2" fill="none" stroke="#222" stroke-width="1.1"/>
<path d="M804.5,155.1 L804.5,162.6 M800.3,158.85 L808.7,158.85" fill="none" stroke="#222" stroke-width="1.1"/>
<circle cx="697.5" cy="209.7" r="3.1" fill="#111"/>
<circle cx="711" cy="209.7" r="3.1" fill="#111"/>
<circle cx="725.6" cy="209.7" r="3.1" fill="#111"/>
<path d="M716.3,204.89999999999998 L720.8,214.29999999999998 L711.8,214.29999999999998 Z" fill="#fff" stroke="#111" stroke-width="1.7"/>
<text x="743" y="214.29999999999998" font-family='"Liberation Sans", sans-serif' font-size="13.8" font-weight="normal" text-anchor="start" fill="#111" textLength="55" lengthAdjust="spacingAndGlyphs" >RHA ( C )</text>
<circle cx="805.3" cy="213.0" r="3.9" fill="none" stroke="#222" stroke-width="1.1"/>
<path d="M808.06,210.24 L813.01,205.29 M809.30,205.29 L813.01,205.29 L813.01,209.00" fill="none" stroke="#222" stroke-width="1.1"/>
<circle cx="697.5" cy="237.2" r="3.1" fill="#111"/>
<circle cx="711" cy="237.2" r="3.1" fill="#111"/>
<circle cx="725.6" cy="237.2" r="3.1" fill="#111"/>
<path d="M716.3,231.7 L721.8,242.39999999999998 L710.8,242.39999999999998 Z" fill="#111"/>
<text x="743" y="241.79999999999998" font-family='"Liberation Sans", sans-serif' font-size="13.8" font-weight="normal" text-anchor="start" fill="#111" textLength="55" lengthAdjust="spacingAndGlyphs" >RHA ( H )</text>
<circle cx="805.3" cy="240.5" r="3.9" fill="none" stroke="#222" stroke-width="1.1"/>
<path d="M808.06,237.74 L813.01,232.79 M809.30,232.79 L813.01,232.79 L813.01,236.50" fill="none" stroke="#222" stroke-width="1.1"/>
<circle cx="697.5" cy="265.4" r="3.1" fill="#111"/>
<circle cx="711" cy="265.4" r="3.1" fill="#111"/>
<circle cx="725.6" cy="265.4" r="3.1" fill="#111"/>
<path d="M716.3,260.4 L721.3,265.4 L716.3,270.4 L711.3,265.4 Z" fill="#fff" stroke="#111" stroke-width="1.7"/>
<text x="743" y="270.0" font-family='"Liberation Sans", sans-serif' font-size="13.8" font-weight="normal" text-anchor="start" fill="#111" textLength="55" lengthAdjust="spacingAndGlyphs" >RHA ( C )</text>
<circle cx="807.5" cy="263.79999999999995" r="4.2" fill="none" stroke="#222" stroke-width="1.1"/>
<path d="M807.5,267.99999999999994 L807.5,275.49999999999994 M803.3,271.74999999999994 L811.7,271.74999999999994" fill="none" stroke="#222" stroke-width="1.1"/>
<circle cx="697.5" cy="292.7" r="3.1" fill="#111"/>
<circle cx="711" cy="292.7" r="3.1" fill="#111"/>
<circle cx="725.6" cy="292.7" r="3.1" fill="#111"/>
<path d="M716.3,286.9 L722,292.7 L716.3,298.5 L710.6,292.7 Z" fill="#111"/>
<text x="743" y="297.3" font-family='"Liberation Sans", sans-serif' font-size="13.8" font-weight="normal" text-anchor="start" fill="#111" textLength="55" lengthAdjust="spacingAndGlyphs" >RHA ( H )</text>
<circle cx="807.5" cy="291.09999999999997" r="4.2" fill="none" stroke="#222" stroke-width="1.1"/>
<path d="M807.5,295.29999999999995 L807.5,302.79999999999995 M803.3,299.04999999999995 L811.7,299.04999999999995" fill="none" stroke="#222" stroke-width="1.1"/>
<text x="471.3" y="604.2" font-family='"Liberation Serif", serif' font-size="29.5" font-weight="bold" text-anchor="middle" fill="#111" textLength="190" lengthAdjust="spacingAndGlyphs" >SHAV 50 trials</text>
<text x="466.5" y="630.7" font-family='"Liberation Serif", serif' font-size="24.6" font-weight="normal" text-anchor="middle" fill="#111" textLength="382" lengthAdjust="spacingAndGlyphs" >"Strain","NH" and "NH x Sex" effect</text>
<line x1="178.6" y1="697.8" x2="178.6" y2="940.7" stroke="#7a7a7a" stroke-width="1.3" />
<line x1="171.3" y1="940.2" x2="178.6" y2="940.2" stroke="#7a7a7a" stroke-width="1.3" />
<text x="157.3" y="948.8000000000001" font-family='"Liberation Sans", sans-serif' font-size="19.8" font-weight="normal" text-anchor="end" fill="#111" stroke="#111" stroke-width="0.3">0</text>
<line x1="171.3" y1="913.3222222222223" x2="178.6" y2="913.3222222222223" stroke="#7a7a7a" stroke-width="1.3" />
<text x="157.3" y="921.9222222222223" font-family='"Liberation Sans", sans-serif' font-size="19.8" font-weight="normal" text-anchor="end" fill="#111" stroke="#111" stroke-width="0.3">5</text>
<line x1="171.3" y1="886.4444444444445" x2="178.6" y2="886.4444444444445" stroke="#7a7a7a" stroke-width="1.3" />
<text x="157.3" y="895.0444444444445" font-family='"Liberation Sans", sans-serif' font-size="19.8" font-weight="normal" text-anchor="end" fill="#111" stroke="#111" stroke-width="0.3">10</text>
<line x1="171.3" y1="859.5666666666667" x2="178.6" y2="859.5666666666667" stroke="#7a7a7a" stroke-width="1.3" />
<text x="157.3" y="868.1666666666667" font-family='"Liberation Sans", sans-serif' font-size="19.8" font-weight="normal" text-anchor="end" fill="#111" stroke="#111" stroke-width="0.3">15</text>
<line x1="171.3" y1="832.6888888888889" x2="178.6" y2="832.6888888888889" stroke="#7a7a7a" stroke-width="1.3" />
<text x="157.3" y="841.2888888888889" font-family='"Liberation Sans", sans-serif' font-size="19.8" font-weight="normal" text-anchor="end" fill="#111" stroke="#111" stroke-width="0.3">20</text>
<line x1="171.3" y1="805.8111111111111" x2="178.6" y2="805.8111111111111" stroke="#7a7a7a" stroke-width="1.3" />
<text x="157.3" y="814.4111111111112" font-family='"Liberation Sans", sans-serif' font-size="19.8" font-weight="normal" text-anchor="end" fill="#111" stroke="#111" stroke-width="0.3">25</text>
<line x1="171.3" y1="778.9333333333334" x2="178.6" y2="778.9333333333334" stroke="#7a7a7a" stroke-width="1.3" />
<text x="157.3" y="787.5333333333334" font-family='"Liberation Sans", sans-serif' font-size="19.8" font-weight="normal" text-anchor="end" fill="#111" stroke="#111" stroke-width="0.3">30</text>
<line x1="171.3" y1="752.0555555555555" x2="178.6" y2="752.0555555555555" stroke="#7a7a7a" stroke-width="1.3" />
<text x="157.3" y="760.6555555555556" font-family='"Liberation Sans", sans-serif' font-size="19.8" font-weight="normal" text-anchor="end" fill="#111" stroke="#111" stroke-width="0.3">35</text>
<line x1="171.3" y1="725.1777777777777" x2="178.6" y2="725.1777777777777" stroke="#7a7a7a" stroke-width="1.3" />
<text x="157.3" y="733.7777777777777" font-family='"Liberation Sans", sans-serif' font-size="19.8" font-weight="normal" text-anchor="end" fill="#111" stroke="#111" stroke-width="0.3">40</text>
<line x1="171.3" y1="698.3" x2="178.6" y2="698.3" stroke="#7a7a7a" stroke-width="1.3" />
<text x="157.3" y="706.9" font-family='"Liberation Sans", sans-serif' font-size="19.8" font-weight="normal" text-anchor="end" fill="#111" stroke="#111" stroke-width="0.3">45</text>
<line x1="178" y1="940.2" x2="751" y2="940.2" stroke="#7a7a7a" stroke-width="1.3" />
<line x1="750.5" y1="940.2" x2="750.5" y2="946" stroke="#7a7a7a" stroke-width="1.3" />
<text transform="translate(88.5,806.3) rotate(-90)" font-family='"Liberation Serif", serif' font-size="28" text-anchor="middle" fill="#111" textLength="277" lengthAdjust="spacingAndGlyphs">Accumulated avoidances</text>
<rect x="218.7" y="930.1999999999999" width="54.5" height="9.000000000000114" fill="#ffffff" stroke="#111" stroke-width="2.2" />
<rect x="273.2" y="914.5" width="54.80000000000001" height="24.700000000000045" fill="#7f7f7f" stroke="#111" stroke-width="2.2" />
<rect x="328.0" y="929.3" width="53.30000000000001" height="9.900000000000091" fill="#c0c0c0" stroke="#111" stroke-width="2.2" />
<rect x="381.3" y="900.3" width="55.69999999999999" height="38.90000000000009" fill="#0a0a0a" stroke="#111" stroke-width="2.2" />
<line x1="245.9" y1="929.4" x2="245.9" y2="928.3" stroke="#111" stroke-width="1.5" />
<line x1="239.9" y1="928.3" x2="251.9" y2="928.3" stroke="#111" stroke-width="1.8" />
<line x1="300.6" y1="913.7" x2="300.6" y2="910.7" stroke="#111" stroke-width="1.5" />
<line x1="294.35" y1="910.7" x2="306.85" y2="910.7" stroke="#111" stroke-width="1.8" />
<line x1="354.6" y1="928.5" x2="354.6" y2="925.0" stroke="#111" stroke-width="1.5" />
<line x1="348.35" y1="925.0" x2="360.85" y2="925.0" stroke="#111" stroke-width="1.8" />
<line x1="409.9" y1="899.5" x2="409.9" y2="889.1" stroke="#111" stroke-width="1.5" />
<line x1="403.65" y1="889.1" x2="416.15" y2="889.1" stroke="#111" stroke-width="1.8" />
<rect x="491.6" y="762.0999999999999" width="54.60000000000002" height="177.10000000000014" fill="#ffffff" stroke="#111" stroke-width="2.2" />
<rect x="546.2" y="775.6999999999999" width="54.59999999999991" height="163.5000000000001" fill="#7f7f7f" stroke="#111" stroke-width="2.2" />
<rect x="600.8" y="780.5" width="53.30000000000007" height="158.70000000000005" fill="#c0c0c0" stroke="#111" stroke-width="2.2" />
<rect x="654.1" y="740.8" width="55.60000000000002" height="198.4000000000001" fill="#0a0a0a" stroke="#111" stroke-width="2.2" />
<line x1="519.2" y1="761.3" x2="519.2" y2="757.5" stroke="#111" stroke-width="1.5" />
<line x1="512.95" y1="757.5" x2="525.45" y2="757.5" stroke="#111" stroke-width="1.8" />
<line x1="573.1" y1="774.9" x2="573.1" y2="757.1" stroke="#111" stroke-width="1.5" />
<line x1="566.85" y1="757.1" x2="579.35" y2="757.1" stroke="#111" stroke-width="1.8" />
<line x1="628.0" y1="779.7" x2="628.0" y2="764.4" stroke="#111" stroke-width="1.5" />
<line x1="621.75" y1="764.4" x2="634.25" y2="764.4" stroke="#111" stroke-width="1.8" />
<line x1="682.6" y1="740.0" x2="682.6" y2="728.6" stroke="#111" stroke-width="1.5" />
<line x1="676.35" y1="728.6" x2="688.85" y2="728.6" stroke="#111" stroke-width="1.8" />
<path d="M282.4,819.3 L282.4,657.8 L387.3,657.8" stroke="#1a1a1a" stroke-width="2.8" fill="none" stroke-linejoin="miter"/>
<path d="M433.5,657.8 L584.3,657.8 L584.3,675.6" stroke="#1a1a1a" stroke-width="2.8" fill="none" />
<path d="M221.3,829.6 L221.3,819.3 L455.4,819.3 L455.4,829.6" stroke="#1a1a1a" stroke-width="2.8" fill="none" />
<path d="M465.2,686 L465.2,675.6 L699.9,675.6 L699.9,686" stroke="#1a1a1a" stroke-width="2.8" fill="none" />
<path d="M623.1,736.3 L623.1,707.3 L686.5,707.3 L686.5,717.6" stroke="#1a1a1a" stroke-width="2.8" fill="none" />
<path d="M244.4,904.2 L244.4,876.1 L302.2,876.1 L302.2,891.5" stroke="#1a1a1a" stroke-width="2.8" fill="none" />
<path d="M354.1,895.9 L354.1,866.3 L411.3,866.3 L411.3,882" stroke="#1a1a1a" stroke-width="2.8" fill="none" />
<text x="415.5" y="677" font-family='"Liberation Serif", serif' font-size="28" font-weight="normal" text-anchor="middle" fill="#111" >&amp;</text>
<path d="M653.30,699.60 L653.30,686.60 M647.67,696.35 L658.93,689.85 M658.93,696.35 L647.67,689.85 " stroke="#111" stroke-width="2.34" stroke-linecap="round" fill="none"/>
<path d="M271.20,857.90 L271.20,845.30 M265.74,854.75 L276.66,848.45 M276.66,854.75 L265.74,848.45 " stroke="#111" stroke-width="2.27" stroke-linecap="round" fill="none"/>
<path d="M382.60,856.40 L382.60,843.60 M377.06,853.20 L388.14,846.80 M388.14,853.20 L377.06,846.80 " stroke="#111" stroke-width="2.30" stroke-linecap="round" fill="none"/>
<text transform="translate(519.3,747.2) skewX(-10)" font-family='"Liberation Serif", serif' font-size="20.5" font-weight="bold" text-anchor="middle" fill="#111" stroke="#111" stroke-width="0.5">#</text>
<text transform="translate(622.7,756.9) skewX(-10)" font-family='"Liberation Serif", serif' font-size="20.5" font-weight="bold" text-anchor="middle" fill="#111" stroke="#111" stroke-width="0.5">#</text>
<text x="327.2" y="986.9" font-family='"Liberation Serif", serif' font-size="24.5" font-weight="bold" text-anchor="middle" fill="#111" textLength="71" lengthAdjust="spacingAndGlyphs" >RLA-I</text>
<text x="599.7" y="986.7" font-family='"Liberation Serif", serif' font-size="24.5" font-weight="bold" text-anchor="middle" fill="#111" textLength="74.5" lengthAdjust="spacingAndGlyphs" >RHA-I</text>
<rect x="767.5" y="678.8" width="81" height="133.2" fill="#fff" stroke="#111" stroke-width="2.4" />
<rect x="778.3" y="688.6" width="12.6" height="12.6" fill="#ffffff" stroke="#111" stroke-width="2" />
<text x="796.2" y="704.4" font-family='"Liberation Sans", sans-serif' font-size="22" font-weight="normal" text-anchor="start" fill="#111" textLength="12.2" lengthAdjust="spacingAndGlyphs" >C</text>
<circle cx="821.7" cy="700.0" r="5.2" fill="none" stroke="#222" stroke-width="1.5"/>
<path d="M825.38,696.32 L832.80,688.90 M827.86,688.90 L832.80,688.90 L832.80,693.84" fill="none" stroke="#222" stroke-width="1.5"/>
<rect x="778.3" y="722.27" width="12.6" height="12.6" fill="#7f7f7f" stroke="#111" stroke-width="2" />
<text x="796.2" y="738.0699999999999" font-family='"Liberation Sans", sans-serif' font-size="22" font-weight="normal" text-anchor="start" fill="#111" textLength="12.0" lengthAdjust="spacingAndGlyphs" >H</text>
<circle cx="823.4000000000001" cy="734.0699999999999" r="5.2" fill="none" stroke="#222" stroke-width="1.5"/>
<path d="M827.08,730.39 L834.50,722.97 M829.56,722.97 L834.50,722.97 L834.50,727.91" fill="none" stroke="#222" stroke-width="1.5"/>
<rect x="778.3" y="755.94" width="12.6" height="12.6" fill="#c0c0c0" stroke="#111" stroke-width="2" />
<text x="796.2" y="771.74" font-family='"Liberation Sans", sans-serif' font-size="22" font-weight="normal" text-anchor="start" fill="#111" textLength="12.2" lengthAdjust="spacingAndGlyphs" >C</text>
<circle cx="825.6" cy="758.44" r="4.9" fill="none" stroke="#222" stroke-width="1.5"/>
<path d="M825.6,763.34 L825.6,773.14 M818.0,766.2800000000001 L833.2,766.2800000000001" fill="none" stroke="#222" stroke-width="1.5"/>
<rect x="778.3" y="789.61" width="12.6" height="12.6" fill="#0a0a0a" stroke="#111" stroke-width="2" />
<text x="796.2" y="805.41" font-family='"Liberation Sans", sans-serif' font-size="22" font-weight="normal" text-anchor="start" fill="#111" textLength="12.0" lengthAdjust="spacingAndGlyphs" >H</text>
<circle cx="827.5" cy="792.41" r="4.9" fill="none" stroke="#222" stroke-width="1.5"/>
<path d="M827.5,797.31 L827.5,807.1099999999999 M819.9,800.25 L835.1,800.25" fill="none" stroke="#222" stroke-width="1.5"/>
<text x="478.6" y="1065.4" font-family='"Liberation Serif", serif' font-size="24" font-weight="bold" text-anchor="middle" fill="#111" textLength="175" lengthAdjust="spacingAndGlyphs" >SHAV 100 trials</text>
<text x="481.7" y="1098" font-family='"Liberation Serif", serif' font-size="22.9" font-weight="normal" text-anchor="middle" fill="#111" textLength="215" lengthAdjust="spacingAndGlyphs" >"NH" and "NH&#160; x Sex"</text>
<line x1="284.4" y1="1111.4" x2="284.4" y2="1381.4" stroke="#9a9a9a" stroke-width="2.2" />
<line x1="276.7" y1="1375.9" x2="284.4" y2="1375.9" stroke="#9a9a9a" stroke-width="2" />
<text x="264.5" y="1382.1000000000001" font-family='"Liberation Sans", sans-serif' font-size="17.5" font-weight="normal" text-anchor="end" fill="#111" stroke="#111" stroke-width="0.25">0</text>
<line x1="276.7" y1="1342.9625" x2="284.4" y2="1342.9625" stroke="#9a9a9a" stroke-width="2" />
<text x="264.5" y="1349.1625000000001" font-family='"Liberation Sans", sans-serif' font-size="17.5" font-weight="normal" text-anchor="end" fill="#111" stroke="#111" stroke-width="0.25">5</text>
<line x1="276.7" y1="1310.025" x2="284.4" y2="1310.025" stroke="#9a9a9a" stroke-width="2" />
<text x="264.5" y="1316.2250000000001" font-family='"Liberation Sans", sans-serif' font-size="17.5" font-weight="normal" text-anchor="end" fill="#111" stroke="#111" stroke-width="0.25">10</text>
<line x1="276.7" y1="1277.0875" x2="284.4" y2="1277.0875" stroke="#9a9a9a" stroke-width="2" />
<text x="264.5" y="1283.2875000000001" font-family='"Liberation Sans", sans-serif' font-size="17.5" font-weight="normal" text-anchor="end" fill="#111" stroke="#111" stroke-width="0.25">15</text>
<line x1="276.7" y1="1244.15" x2="284.4" y2="1244.15" stroke="#9a9a9a" stroke-width="2" />
<text x="264.5" y="1250.3500000000001" font-family='"Liberation Sans", sans-serif' font-size="17.5" font-weight="normal" text-anchor="end" fill="#111" stroke="#111" stroke-width="0.25">20</text>
<line x1="276.7" y1="1211.2125" x2="284.4" y2="1211.2125" stroke="#9a9a9a" stroke-width="2" />
<text x="264.5" y="1217.4125000000001" font-family='"Liberation Sans", sans-serif' font-size="17.5" font-weight="normal" text-anchor="end" fill="#111" stroke="#111" stroke-width="0.25">25</text>
<line x1="276.7" y1="1178.275" x2="284.4" y2="1178.275" stroke="#9a9a9a" stroke-width="2" />
<text x="264.5" y="1184.4750000000001" font-family='"Liberation Sans", sans-serif' font-size="17.5" font-weight="normal" text-anchor="end" fill="#111" stroke="#111" stroke-width="0.25">30</text>
<line x1="276.7" y1="1145.3375" x2="284.4" y2="1145.3375" stroke="#9a9a9a" stroke-width="2" />
<text x="264.5" y="1151.5375000000001" font-family='"Liberation Sans", sans-serif' font-size="17.5" font-weight="normal" text-anchor="end" fill="#111" stroke="#111" stroke-width="0.25">35</text>
<line x1="276.7" y1="1112.4" x2="284.4" y2="1112.4" stroke="#9a9a9a" stroke-width="2" />
<text x="264.5" y="1118.6000000000001" font-family='"Liberation Sans", sans-serif' font-size="17.5" font-weight="normal" text-anchor="end" fill="#111" stroke="#111" stroke-width="0.25">40</text>
<line x1="276.7" y1="1375.9" x2="652.3" y2="1375.9" stroke="#9a9a9a" stroke-width="2.4" />
<line x1="652.3" y1="1375.9" x2="652.3" y2="1381.2" stroke="#9a9a9a" stroke-width="2" />
<text transform="translate(217,1234) rotate(-90)" font-family='"Liberation Serif", serif' font-size="25.5" text-anchor="middle" fill="#111" textLength="227" lengthAdjust="spacingAndGlyphs">Accumulated avoidances</text>
<line x1="353.2" y1="1307.7" x2="353.2" y2="1296.7" stroke="#1a1a1a" stroke-width="2.2" />
<line x1="348.7" y1="1296.7" x2="357.7" y2="1296.7" stroke="#1a1a1a" stroke-width="2.8" />
<line x1="411.2" y1="1280.2" x2="411.2" y2="1265.9" stroke="#1a1a1a" stroke-width="2.2" />
<line x1="406.7" y1="1265.9" x2="415.7" y2="1265.9" stroke="#1a1a1a" stroke-width="2.8" />
<line x1="523.8" y1="1311.0" x2="523.8" y2="1295.9" stroke="#1a1a1a" stroke-width="2.2" />
<line x1="519.3" y1="1295.9" x2="528.3" y2="1295.9" stroke="#1a1a1a" stroke-width="2.8" />
<line x1="581.0" y1="1186.7" x2="581.0" y2="1148.7" stroke="#1a1a1a" stroke-width="2.2" />
<line x1="576.5" y1="1148.7" x2="585.5" y2="1148.7" stroke="#1a1a1a" stroke-width="2.8" />
<rect x="324.8" y="1307.7" width="56.89999999999998" height="67.20000000000005" fill="#ffffff" stroke="#1a1a1a" stroke-width="2.4"/>
<rect x="381.7" y="1280.2" width="58.10000000000002" height="94.70000000000005" fill="#939393" stroke="#1a1a1a" stroke-width="2.4"/>
<rect x="496.0" y="1311.0" width="55.60000000000002" height="63.90000000000009" fill="#c8c8ca" stroke="#1a1a1a" stroke-width="2.4"/>
<rect x="551.6" y="1186.7" width="58.60000000000002" height="188.20000000000005" fill="#231f20" stroke="#1a1a1a" stroke-width="2.4"/>
<path d="M529,1276 L529,1127.5 L584.1,1127.5 L584.1,1138.5" stroke="#1a1a1a" stroke-width="2.6" fill="none" />
<path d="M555.60,1119.20 L555.60,1107.40 M550.49,1116.25 L560.71,1110.35 M560.71,1116.25 L550.49,1110.35 " stroke="#111" stroke-width="2.12" stroke-linecap="round" fill="none"/>
<text x="370.6" y="1410.9" font-family='"Liberation Serif", serif' font-size="19" font-weight="bold" text-anchor="middle" fill="#111" textLength="121" lengthAdjust="spacingAndGlyphs" >RLA-I (Males)</text>
<text x="567.2" y="1410.9" font-family='"Liberation Serif", serif' font-size="19" font-weight="bold" text-anchor="middle" fill="#111" textLength="143" lengthAdjust="spacingAndGlyphs" >RLA-I&#160; (Females)</text>
<rect x="649.6" y="1157.4" width="117.6" height="135" fill="#fff" stroke="#111" stroke-width="2.3" />
<rect x="657.7" y="1168.5" width="10.7" height="10.7" fill="#ffffff" stroke="#1a1a1a" stroke-width="2.2" />
<text x="675" y="1180.2" font-family='"Liberation Sans", sans-serif' font-size="17.6" font-weight="normal" text-anchor="start" fill="#111" textLength="63" lengthAdjust="spacingAndGlyphs" >RLA ( C )</text>
<circle cx="749.6" cy="1178.0" r="4.4" fill="none" stroke="#222" stroke-width="1.2"/>
<path d="M752.71,1174.89 L759.08,1168.52 M754.90,1168.52 L759.08,1168.52 L759.08,1172.70" fill="none" stroke="#222" stroke-width="1.2"/>
<rect x="657.7" y="1202.63" width="10.7" height="10.7" fill="#939393" stroke="#1a1a1a" stroke-width="2.2" />
<text x="675" y="1214.3300000000002" font-family='"Liberation Sans", sans-serif' font-size="17.6" font-weight="normal" text-anchor="start" fill="#111" textLength="64" lengthAdjust="spacingAndGlyphs" >RLA ( H )</text>
<circle cx="750.6" cy="1212.13" r="4.4" fill="none" stroke="#222" stroke-width="1.2"/>
<path d="M753.71,1209.02 L760.08,1202.65 M755.90,1202.65 L760.08,1202.65 L760.08,1206.83" fill="none" stroke="#222" stroke-width="1.2"/>
<rect x="657.7" y="1236.76" width="10.7" height="10.7" fill="#c8c8ca" stroke="#1a1a1a" stroke-width="2.2" />
<text x="675" y="1248.46" font-family='"Liberation Sans", sans-serif' font-size="17.6" font-weight="normal" text-anchor="start" fill="#111" textLength="63" lengthAdjust="spacingAndGlyphs" >RLA ( C )</text>
<circle cx="751.2" cy="1239.86" r="4.4" fill="none" stroke="#222" stroke-width="1.2"/>
<path d="M751.2,1244.26 L751.2,1252.76 M746.6,1248.935 L755.8000000000001,1248.935" fill="none" stroke="#222" stroke-width="1.2"/>
<rect x="657.7" y="1270.89" width="10.7" height="10.7" fill="#231f20" stroke="#1a1a1a" stroke-width="2.2" />
<text x="675" y="1282.5900000000001" font-family='"Liberation Sans", sans-serif' font-size="17.6" font-weight="normal" text-anchor="start" fill="#111" textLength="64" lengthAdjust="spacingAndGlyphs" >RLA ( H )</text>
<circle cx="752.2" cy="1273.99" r="4.4" fill="none" stroke="#222" stroke-width="1.2"/>
<path d="M752.2,1278.39 L752.2,1286.89 M747.6,1283.065 L756.8000000000001,1283.065" fill="none" stroke="#222" stroke-width="1.2"/>
</svg>
</body></html>
